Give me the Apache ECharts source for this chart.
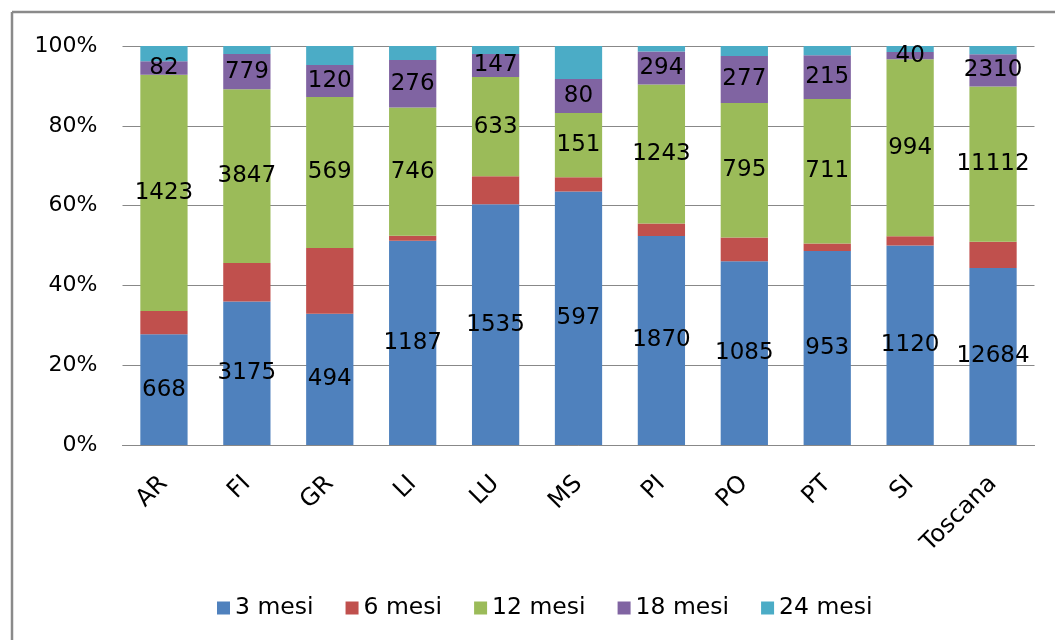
<!DOCTYPE html>
<html>
<head>
<meta charset="utf-8">
<script src="https://cdn.jsdelivr.net/npm/echarts@6/dist/echarts.min.js"></script>
<style>
  html, body { margin: 0; padding: 0; background: #fff; }
  #chart { width: 1055px; height: 640px; }
</style>
</head>
<body>
<div id="chart"></div>
<script>
// Province categories and counts per duration class
const categories = ['AR', 'FI', 'GR', 'LI', 'LU', 'MS', 'PI', 'PO', 'PT', 'SI', 'Toscana'];
const mesi3  = [668, 3175, 494, 1187, 1535, 597, 1870, 1085, 953, 1120, 12684];
const mesi6  = [140, 857, 248, 30, 178, 34, 111, 139, 37, 51, 1887];
const mesi12 = [1423, 3847, 569, 746, 633, 151, 1243, 795, 711, 994, 11112];
const mesi18 = [82, 779, 120, 276, 147, 80, 294, 277, 215, 40, 2310];
const mesi24 = [92, 177, 72, 81, 51, 78, 50, 59, 45, 34, 600];
const seriesNames = ['3 mesi', '6 mesi', '12 mesi', '18 mesi', '24 mesi'];
const yTicks = [0, 20, 40, 60, 80, 100];

const colors = ['#4F81BD', '#C0504D', '#9BBB59', '#8064A2', '#4BACC6'];
const raw = [mesi3, mesi6, mesi12, mesi18, mesi24];
const showLabel = [true, false, true, true, false];
const totals = categories.map((_, i) => raw.reduce((s, arr) => s + arr[i], 0));

const FONT = 'DejaVu Sans';

// 100% stacked: each segment is its share of the category total,
// while the label shows the absolute count
const series = raw.map((arr, k) => ({
  name: seriesNames[k],
  type: 'bar',
  stack: 'total',
  barWidth: '57%',
  itemStyle: { color: colors[k] },
  label: {
    show: showLabel[k],
    position: 'inside',
    color: '#000',
    fontFamily: FONT,
    fontSize: 23,
    formatter: p => String(arr[p.dataIndex])
  },
  data: arr.map((v, i) => v / totals[i] * 100)
}));

const chart = echarts.init(document.getElementById('chart'), null, { renderer: 'canvas' });
chart.setOption({
  animation: false,
  color: colors,
  grid: { left: 122.5, right: 20.5, top: 46, bottom: 195 },
  xAxis: {
    type: 'category',
    data: categories,
    axisLine: { lineStyle: { color: '#888', width: 1 } },
    axisTick: { show: false },
    axisLabel: {
      rotate: 45,
      margin: 35,
      color: '#000',
      fontFamily: FONT,
      fontSize: 24
    }
  },
  yAxis: {
    type: 'value',
    min: yTicks[0],
    max: yTicks[yTicks.length - 1],
    interval: yTicks[1] - yTicks[0],
    axisLine: { show: false },
    axisTick: { show: false },
    splitLine: { lineStyle: { color: '#888', width: 1 } },
    axisLabel: {
      formatter: '{value}%',
      margin: 25,
      color: '#000',
      fontFamily: FONT,
      fontSize: 22
    }
  },
  legend: {
    data: seriesNames,
    left: 212,
    top: 591,
    icon: 'rect',
    itemWidth: 13,
    itemHeight: 13,
    itemGap: 32,
    textStyle: { color: '#000', fontFamily: FONT, fontSize: 23.5 }
  },
  graphic: [
    { type: 'line', shape: { x1: 12, y1: 12, x2: 1055, y2: 12 }, style: { stroke: '#8a8a8a', lineWidth: 2.5 } },
    { type: 'line', shape: { x1: 12, y1: 12, x2: 12, y2: 640 }, style: { stroke: '#8a8a8a', lineWidth: 2.5 } }
  ],
  series: series
});
</script>
</body>
</html>
